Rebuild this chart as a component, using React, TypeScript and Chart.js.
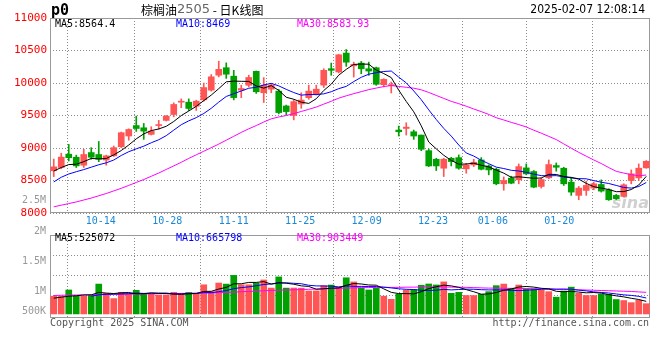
import React, { useEffect, useRef } from 'react';
import { Chart, registerables } from 'chart.js';

Chart.register(...registerables);

// ---------------- data ----------------
const DATES = [
  '10-10', '10-11', '10-14', '10-15', '10-16', '10-17', '10-18', '10-21', '10-22', '10-23',
  '10-24', '10-25', '10-28', '10-29', '10-30', '10-31', '11-01', '11-04', '11-05', '11-06',
  '11-07', '11-08', '11-11', '11-12', '11-13', '11-14', '11-15', '11-18', '11-19', '11-20',
  '11-21', '11-22', '11-25', '11-26', '11-27', '11-28', '11-29', '12-02', '12-03', '12-04',
  '12-05', '12-06', '12-09', '12-10', '12-11', '12-12', '12-13', '12-16', '12-17', '12-18',
  '12-19', '12-20', '12-23', '12-24', '12-25', '12-26', '12-27', '12-30', '12-31', '01-02',
  '01-03', '01-06', '01-07', '01-08', '01-09', '01-10', '01-13', '01-14', '01-15', '01-16',
  '01-17', '01-20', '01-21', '01-22', '01-23', '01-24', '01-27', '02-05', '02-06', '02-07',
];
const TICK_DATES = ['10-14', '10-28', '11-11', '11-25', '12-09', '12-23', '01-06', '01-20'];

const OPEN = [
  8650, 8700, 8905, 8858, 8735, 8930, 8900, 8815, 8880, 9020,
  9185, 9345, 9311, 9210, 9345, 9425, 9515, 9705, 9705, 9643,
  9740, 9890, 10120, 10235, 10105, 9890, 9965, 10180, 9850, 9905,
  9875, 9647, 9500, 9677, 9774, 9830, 9967, 10220, 10170, 10460,
  10265, 10306, 10219, 10235, 9974, 9959, 9276, 9301, 9250, 9199,
  8959, 8827, 8689, 8842, 8852, 8679, 8740, 8816, 8724, 8673,
  8450, 8536, 8510, 8694, 8638, 8408, 8541, 8730, 8689, 8475,
  8271, 8347, 8383, 8439, 8357, 8271, 8255, 8500, 8541, 8694,
];
const HIGH = [
  8830, 8920, 9055, 8890, 8980, 9005, 9100, 8890, 9030, 9245,
  9295, 9490, 9378, 9327, 9425, 9500, 9695, 9755, 9755, 9735,
  10000, 10130, 10335, 10310, 10195, 9965, 10120, 10185, 10083, 9992,
  9900, 9660, 9738, 9850, 9967, 9967, 10220, 10307, 10440, 10515,
  10321, 10332, 10321, 10245, 10066, 10015, 9337, 9388, 9276, 9199,
  8985, 8842, 8842, 8857, 8893, 8765, 8827, 8852, 8740, 8689,
  8555, 8566, 8755, 8755, 8653, 8541, 8816, 8770, 8704, 8551,
  8408, 8490, 8475, 8510, 8373, 8286, 8449, 8663, 8755, 8806,
];
const LOW = [
  8560, 8680, 8800, 8700, 8700, 8827, 8790, 8735, 8870, 9005,
  9120, 9255, 9133, 9200, 9290, 9415, 9480, 9620, 9577, 9577,
  9720, 9875, 10095, 10070, 9740, 9775, 9940, 9840, 9700, 9850,
  9525, 9510, 9433, 9611, 9750, 9815, 9930, 10119, 10155, 10256,
  10092, 10143, 10117, 9964, 9939, 9847, 9184, 9199, 9133, 8959,
  8714, 8653, 8561, 8724, 8673, 8612, 8714, 8663, 8587, 8434,
  8350, 8450, 8449, 8587, 8388, 8383, 8526, 8643, 8424, 8271,
  8204, 8271, 8357, 8322, 8194, 8204, 8245, 8449, 8500, 8689,
];
const CLOSE = [
  8710, 8860, 8850, 8725, 8900, 8858, 8827, 8880, 9005, 9235,
  9285, 9300, 9260, 9260, 9360, 9490, 9670, 9715, 9608, 9720,
  9930, 10095, 10210, 10135, 9775, 9915, 10085, 9865, 9967, 9967,
  9545, 9560, 9713, 9738, 9875, 9905, 10195, 10195, 10434, 10320,
  10286, 10219, 10184, 9980, 10056, 9974, 9250, 9321, 9184, 8980,
  8724, 8724, 8827, 8791, 8689, 8740, 8781, 8673, 8663, 8449,
  8500, 8459, 8714, 8602, 8398, 8515, 8745, 8704, 8449, 8322,
  8383, 8424, 8449, 8337, 8204, 8220, 8434, 8602, 8689, 8796,
];
const MA5 = [
  8645, 8700, 8745, 8750, 8790, 8839, 8832, 8838, 8894, 8961,
  9046, 9141, 9217, 9268, 9293, 9334, 9408, 9499, 9569, 9641,
  9729, 9814, 9913, 10018, 10029, 10026, 10024, 9955, 9921, 9960,
  9886, 9781, 9750, 9705, 9686, 9758, 9885, 9982, 10121, 10210,
  10286, 10291, 10289, 10198, 10145, 10083, 9889, 9716, 9557, 9342,
  9092, 8987, 8888, 8809, 8751, 8754, 8766, 8735, 8709, 8661,
  8613, 8549, 8557, 8545, 8535, 8538, 8595, 8593, 8562, 8547,
  8521, 8456, 8405, 8383, 8361, 8328, 8330, 8361, 8431, 8564,
];
const MA10 = [
  8478, 8550, 8600, 8635, 8668, 8705, 8742, 8772, 8815, 8885,
  8943, 8987, 9028, 9081, 9127, 9190, 9275, 9358, 9418, 9467,
  9531, 9611, 9706, 9793, 9835, 9877, 9919, 9934, 9970, 9994,
  9956, 9902, 9853, 9813, 9823, 9822, 9833, 9866, 9913, 9948,
  10022, 10088, 10135, 10159, 10177, 10184, 10090, 10002, 9877, 9743,
  9587, 9438, 9302, 9183, 9046, 8923, 8876, 8811, 8759, 8706,
  8684, 8657, 8646, 8627, 8598, 8575, 8572, 8575, 8554, 8541,
  8529, 8526, 8499, 8473, 8454, 8424, 8393, 8383, 8407, 8469,
];
const MA30 = [
  8095, 8120, 8145, 8170, 8200, 8230, 8265, 8300, 8340, 8380,
  8425, 8470, 8515, 8565, 8615, 8670, 8725, 8780, 8840, 8895,
  8950, 9005, 9060, 9120, 9180, 9240, 9295, 9345, 9400, 9449,
  9477, 9500, 9529, 9562, 9595, 9630, 9675, 9719, 9767, 9803,
  9836, 9867, 9898, 9922, 9945, 9961, 9947, 9934, 9920, 9895,
  9855, 9809, 9763, 9718, 9682, 9643, 9600, 9560, 9516, 9466,
  9431, 9394, 9361, 9323, 9274, 9228, 9179, 9130, 9063, 8997,
  8933, 8874, 8816, 8761, 8699, 8641, 8614, 8590, 8573, 8584,
];
const VOLUME = [
  741000, 738000, 1002000, 743000, 739000, 771000, 1248000, 862000, 641000, 903000,
  832000, 988000, 861000, 822000, 791000, 788000, 902000, 819000, 897000, 861000,
  1218000, 931000, 1292000, 1247000, 1612000, 1221000, 1219000, 1289000, 1421000, 1081000,
  1548000, 1079000, 1083000, 1077000, 958000, 962000, 1181000, 1208000, 1119000, 1512000,
  1338000, 1082000, 1001000, 1079000, 741000, 612000, 822000, 998000, 1021000, 1198000,
  1252000, 1211000, 1339000, 861000, 902000, 771000, 768000, 822000, 931000, 1182000,
  1249000, 1051000, 1208000, 1049000, 1052000, 998000, 931000, 702000, 958000, 1121000,
  862000, 771000, 768000, 821000, 819000, 602000, 561000, 472000, 571000, 428000,
];
const VOL_MA5 = [
  660000, 700000, 740000, 760000, 792000, 798000, 900000, 872000, 852000, 884000,
  896000, 844000, 844000, 880000, 858000, 850000, 832000, 824000, 840000, 854000,
  940000, 946000, 1040000, 1110000, 1260000, 1260000, 1318000, 1318000, 1352000, 1246000,
  1312000, 1284000, 1242000, 1174000, 1150000, 1032000, 1052000, 1078000, 1086000, 1196000,
  1272000, 1252000, 1210000, 1202000, 1048000, 902000, 850000, 850000, 838000, 930000,
  1058000, 1136000, 1204000, 1172000, 1112000, 1016000, 928000, 824000, 838000, 894000,
  990000, 1046000, 1124000, 1148000, 1122000, 1072000, 1048000, 946000, 928000, 942000,
  914000, 882000, 896000, 868000, 808000, 756000, 714000, 654000, 604000, 525072,
];
const VOL_MA10 = [
  null, null, null, null, null, 740000, 800000, 820000, 830000, 838000,
  847000, 872000, 858000, 866000, 871000, 873000, 838000, 834000, 860000, 856000,
  895000, 889000, 932000, 975000, 1057000, 1100000, 1132000, 1179000, 1231000, 1253000,
  1286000, 1301000, 1280000, 1263000, 1198000, 1172000, 1168000, 1160000, 1130000, 1173000,
  1152000, 1152000, 1144000, 1144000, 1122000, 1087000, 1051000, 1030000, 1020000, 989000,
  980000, 993000, 1027000, 1005000, 1021000, 1037000, 1032000, 1014000, 1005000, 1003000,
  1003000, 987000, 974000, 993000, 1008000, 1031000, 1047000, 1035000, 1038000, 1032000,
  993000, 965000, 921000, 898000, 875000, 835000, 798000, 775000, 736000, 665798,
];
const VOL_MA30 = [
  770000, 780000, 790000, 790000, 800000, 800000, 810000, 810000, 820000, 820000,
  830000, 830000, 840000, 840000, 850000, 850000, 850000, 860000, 860000, 870000,
  870000, 880000, 890000, 900000, 910000, 930000, 940000, 950000, 970000, 980000,
  990000, 1000000, 1010000, 1020000, 1030000, 1040000, 1050000, 1060000, 1070000, 1080000,
  1090000, 1100000, 1100000, 1110000, 1110000, 1110000, 1110000, 1120000, 1120000, 1130000,
  1130000, 1130000, 1130000, 1120000, 1120000, 1110000, 1100000, 1090000, 1080000, 1080000,
  1070000, 1070000, 1060000, 1060000, 1050000, 1050000, 1040000, 1030000, 1030000, 1020000,
  1010000, 1000000, 990000, 980000, 970000, 960000, 950000, 940000, 920000, 903449,
];

const PRICE_MIN = 8000;
const PRICE_MAX = 11000;
const PRICE_STEP = 500;
const VOL_MIN = -170000;
const VOL_MAX = 3300000;

const SYMBOL = 'p0';
const TITLE_PARTS = ['棕榈油', '2505', ' - ', '日K线图'];
const TIMESTAMP = '2025-02-07 12:08:14';
const PRICE_LEGEND = ['MA5:8564.4', 'MA10:8469', 'MA30:8583.93'];
const VOL_LEGEND = ['MA5:525072', 'MA10:665798', 'MA30:903449'];
const VOL_AXIS_LABELS = ['2.5M', '2M', '1.5M', '1M', '500K'];
const COPYRIGHT = 'Copyright 2025 SINA.COM';
const SOURCE_URL = 'http://finance.sina.com.cn';

// ---------------- style ----------------
const MONO = "'DejaVu Sans Mono', 'Liberation Mono', monospace";
const NARROW = "'Liberation Sans Narrow', 'DejaVu Sans Condensed', sans-serif";
const CJK = "'Noto Sans CJK SC', sans-serif";
const RED = '#ff5555';
const GREEN = '#00a000';
const GRID = '#8c8c8c';
const FRAME = '#999999';
const MA_COLORS = ['#000000', '#0000ff', '#ff00ff'];
const LEGEND_X = [55, 176, 297];

const TOP_H = 225;
const BOTTOM_H = 135;
const VOL_LABEL_Y = [200, 231, 261, 291, 311]; // page y of volume axis labels

const candleColors = CLOSE.map((c, i) => (c >= OPEN[i] ? RED : GREEN));
const tickIdx = TICK_DATES.map((d) => DATES.indexOf(d));

const framePlugin = {
  id: 'frame',
  beforeDatasetsDraw(chart: any) {
    const { ctx, chartArea } = chart;
    const l = Math.round(chartArea.left) + 0.5;
    const t = Math.round(chartArea.top) + 0.5;
    const r = Math.round(chartArea.right) - 0.5;
    const b = Math.round(chartArea.bottom) - 0.5;
    ctx.save();
    ctx.strokeStyle = FRAME;
    ctx.lineWidth = 1;
    ctx.strokeRect(l, t, r - l, b - t);
    ctx.restore();
  },
};

const topTextPlugin = {
  id: 'topText',
  afterDatasetsDraw(chart: any) {
    const { ctx, chartArea } = chart;
    ctx.save();
    ctx.globalAlpha = 0.4;
    ctx.fillStyle = '#8a8a8a';
    ctx.font = "italic bold 16px 'DejaVu Sans', sans-serif";
    ctx.textAlign = 'right';
    ctx.textBaseline = 'alphabetic';
    ctx.fillText('sina', chartArea.right - 1, chartArea.bottom - 5);
    ctx.restore();
  },
  afterDraw(chart: any) {
    const { ctx } = chart;
    ctx.save();
    ctx.textBaseline = 'middle';
    ctx.textAlign = 'left';
    ctx.fillStyle = '#000';
    ctx.font = `bold 15px ${MONO}`;
    ctx.fillText(SYMBOL, 51, 11);

    const fonts = [`12px ${CJK}`, "13px 'DejaVu Sans', sans-serif", `12px ${CJK}`, `12px ${CJK}`];
    const colors = ['#000', '#666', '#000', '#000'];
    let x = 141;
    TITLE_PARTS.forEach((p, k) => {
      ctx.font = fonts[k];
      ctx.fillStyle = colors[k];
      ctx.fillText(p, x, 10);
      x += ctx.measureText(p).width;
    });

    ctx.font = `12px ${NARROW}`;
    ctx.fillStyle = '#000';
    ctx.textAlign = 'right';
    ctx.fillText(TIMESTAMP, 645, 10);

    ctx.font = `10px ${MONO}`;
    ctx.textAlign = 'left';
    PRICE_LEGEND.forEach((t, k) => {
      ctx.fillStyle = MA_COLORS[k];
      ctx.fillText(t, LEGEND_X[k], 24);
    });

    ctx.fillStyle = '#999';
    ctx.textAlign = 'right';
    ctx.fillText(VOL_AXIS_LABELS[0], 46, VOL_LABEL_Y[0]);
    ctx.restore();
  },
};

const bottomTextPlugin = {
  id: 'bottomText',
  afterDraw(chart: any) {
    const { ctx } = chart;
    ctx.save();
    ctx.textBaseline = 'middle';
    ctx.font = `10px ${MONO}`;
    ctx.fillStyle = '#999';
    ctx.textAlign = 'right';
    for (let k = 1; k < VOL_AXIS_LABELS.length; k++) {
      ctx.fillText(VOL_AXIS_LABELS[k], 46, VOL_LABEL_Y[k] - TOP_H);
    }
    ctx.textAlign = 'left';
    VOL_LEGEND.forEach((t, k) => {
      ctx.fillStyle = MA_COLORS[k];
      ctx.fillText(t, LEGEND_X[k], 13);
    });
    ctx.fillStyle = '#555';
    ctx.fillText(COPYRIGHT, 50, 98);
    ctx.textAlign = 'right';
    ctx.fillText(SOURCE_URL, 649, 98);
    ctx.restore();
  },
};

function lineDs(label: string, data: any[], color: string) {
  return {
    type: 'line' as const,
    label,
    data,
    borderColor: color,
    backgroundColor: color,
    borderWidth: 1,
    pointRadius: 0,
    tension: 0,
    order: 0,
    xAxisID: 'x',
  };
}

function xAxes(showLabels: boolean) {
  return {
    x: { type: 'category', offset: true, display: false },
    xg: {
      type: 'linear',
      position: 'bottom',
      min: 0,
      max: DATES.length - 1,
      afterBuildTicks: (s: any) => {
        s.ticks = tickIdx.map((v) => ({ value: v }));
      },
      afterFit: (s: any) => {
        s.height = showLabels ? TOP_H - 213 : 0;
        s.paddingLeft = 0;
        s.paddingRight = 0;
      },
      ticks: {
        display: showLabels,
        autoSkip: false,
        maxRotation: 0,
        padding: 2,
        color: '#1a88d8',
        font: { family: MONO, size: 10 },
        callback: (v: any) => DATES[v],
      },
      grid: { color: GRID, lineWidth: 1, drawTicks: false },
      border: { display: false, dash: [1, 2] },
    },
  };
}

export default function App() {
  const topRef = useRef<HTMLCanvasElement>(null);
  const botRef = useRef<HTMLCanvasElement>(null);

  useEffect(() => {
    const top = new Chart(topRef.current as HTMLCanvasElement, {
      type: 'bar',
      data: {
        labels: DATES,
        datasets: [
          lineDs('MA5', MA5, MA_COLORS[0]),
          lineDs('MA10', MA10, MA_COLORS[1]),
          lineDs('MA30', MA30, MA_COLORS[2]),
          {
            type: 'bar',
            label: 'wick',
            data: LOW.map((l, i) => [l, HIGH[i]]),
            backgroundColor: candleColors,
            barThickness: 1,
            grouped: false,
            order: 2,
            xAxisID: 'x',
          },
          {
            type: 'bar',
            label: 'body',
            data: OPEN.map((o, i) => [o, CLOSE[i]]),
            backgroundColor: candleColors,
            barThickness: 6,
            minBarLength: 1,
            grouped: false,
            order: 1,
            xAxisID: 'x',
          },
        ] as any,
      },
      options: {
        animation: false,
        responsive: false,
        events: [],
        layout: { padding: { top: 18, right: 10, left: 0, bottom: 0 } },
        plugins: { legend: { display: false }, tooltip: { enabled: false } },
        scales: {
          ...(xAxes(true) as any),
          y: {
            type: 'linear',
            position: 'left',
            min: PRICE_MIN,
            max: PRICE_MAX,
            afterFit: (s: any) => {
              s.width = 50;
            },
            ticks: {
              stepSize: PRICE_STEP,
              padding: 3,
              color: '#ff0000',
              font: { family: MONO, size: 11 },
              callback: (v: any) => String(v),
            },
            grid: { color: GRID, lineWidth: 1, drawTicks: false },
            border: { display: false, dash: [1, 2] },
          },
        },
      } as any,
      plugins: [framePlugin, topTextPlugin],
    });

    const bottom = new Chart(botRef.current as HTMLCanvasElement, {
      type: 'bar',
      data: {
        labels: DATES,
        datasets: [
          { ...lineDs('MA5', VOL_MA5, MA_COLORS[0]), yAxisID: 'yv' },
          { ...lineDs('MA10', VOL_MA10, MA_COLORS[1]), yAxisID: 'yv' },
          { ...lineDs('MA30', VOL_MA30, MA_COLORS[2]), yAxisID: 'yv' },
          {
            type: 'bar',
            label: 'volume',
            data: VOLUME,
            backgroundColor: candleColors,
            barThickness: 6,
            order: 1,
            xAxisID: 'x',
            yAxisID: 'yv',
          },
        ] as any,
      },
      options: {
        animation: false,
        responsive: false,
        events: [],
        layout: { padding: { top: 10, right: 10, left: 0, bottom: BOTTOM_H - 93 } },
        plugins: { legend: { display: false }, tooltip: { enabled: false } },
        scales: {
          ...(xAxes(false) as any),
          yv: {
            type: 'linear',
            position: 'left',
            min: VOL_MIN,
            max: VOL_MAX,
            afterFit: (s: any) => {
              s.width = 50;
            },
            afterBuildTicks: (s: any) => {
              const span = s.max - s.min;
              s.ticks = [1, 2, 3].map((k) => ({ value: s.max - (span * k * 20) / 83 }));
            },
            ticks: { display: false },
            grid: { color: GRID, lineWidth: 1, drawTicks: false },
            border: { display: false, dash: [1, 2] },
          },
        },
      } as any,
      plugins: [framePlugin, bottomTextPlugin],
    });

    return () => {
      top.destroy();
      bottom.destroy();
    };
  }, []);

  return (
    <div style={{ position: 'fixed', left: 0, top: 0, width: 660, height: 360, background: '#fff' }}>
      <canvas ref={topRef} width={660} height={TOP_H} style={{ position: 'absolute', left: 0, top: 0 }} />
      <canvas ref={botRef} width={660} height={BOTTOM_H} style={{ position: 'absolute', left: 0, top: TOP_H }} />
    </div>
  );
}
